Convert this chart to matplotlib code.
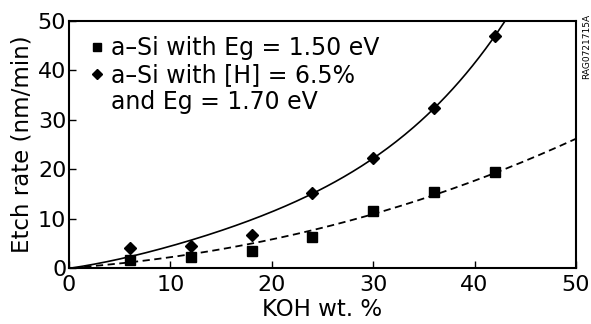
import numpy as np
import matplotlib
matplotlib.use("Agg")
import matplotlib.pyplot as plt
from matplotlib.lines import Line2D

plt.rcParams['font.family'] = ['DejaVu Sans']

# measured points
koh = [6, 12, 18, 24, 30, 36, 42]
etch_150 = [1.7, 2.2, 3.4, 6.2, 11.6, 15.3, 19.5]
etch_170 = [4.0, 4.5, 6.6, 15.1, 22.2, 32.3, 47.0]

# fit curves
fit_solid_x = [0.3, 6, 12, 18, 24, 30, 36, 42, 43]
fit_solid_y = [0.0, 2.4, 5.5, 9.8, 15.1, 22.2, 32.3, 47.0, 50.0]
fit_dash_x = [1.5, 6, 12, 18, 24, 30, 36, 42, 50]
fit_dash_y = [0.1, 1.3, 2.9, 5.0, 7.6, 10.6, 14.7, 19.7, 26.0]

legend_labels = ["a\u2013Si with Eg = 1.50 eV",
                 "a\u2013Si with [H] = 6.5%",
                 "and Eg = 1.70 eV"]

fig = plt.figure(figsize=(5.91, 3.24), dpi=100)
ax = fig.add_axes([0.1168, 0.1728, 0.8578, 0.7622])

# smooth the read curve points
cs = np.polyfit(fit_solid_x, fit_solid_y, 4)
xs = np.linspace(fit_solid_x[0], fit_solid_x[-1], 200)
ax.plot(xs, np.polyval(cs, xs), color='black', lw=1.2)

cd = np.polyfit(fit_dash_x, fit_dash_y, 3)
xd = np.linspace(fit_dash_x[0], fit_dash_x[-1], 200)
ax.plot(xd, np.polyval(cd, xd), color='black', lw=1.3, ls=(0, (4, 2.5)))

ax.plot(koh, etch_150, 's', color='black', ms=7, ls='none')
ax.plot(koh, etch_170, 'D', color='black', ms=6, ls='none')

ax.set_xlim(0, 50)
ax.set_ylim(0, 50)
ax.set_xticks([0, 10, 20, 30, 40, 50])
ax.set_yticks([0, 10, 20, 30, 40, 50])
ax.tick_params(direction='in', length=5, width=1, labelsize=16)
ax.tick_params(axis='x', pad=5)
ax.tick_params(axis='y', pad=2)
for sp in ax.spines.values():
    sp.set_linewidth(1.5)

ax.set_xlabel("KOH wt. %", fontsize=16.5, labelpad=2)
ax.set_ylabel("Etch rate (nm/min)", fontsize=16.5, labelpad=3)

handles = [Line2D([], [], marker='s', color='black', ls='none', ms=6),
           Line2D([], [], marker='D', color='black', ls='none', ms=5.5),
           Line2D([], [], ls='none')]
ax.legend(handles, legend_labels, loc='upper left', bbox_to_anchor=(0.041, 0.94),
          frameon=False, fontsize=17, handlelength=0.6, handletextpad=0.3,
          labelspacing=0.14, borderaxespad=0, borderpad=0)

fig.text(0.992, 0.858, "RAG0721715A", rotation=90, fontsize=6.5,
         ha='center', va='center')

fig.savefig("out.png", dpi=100)
